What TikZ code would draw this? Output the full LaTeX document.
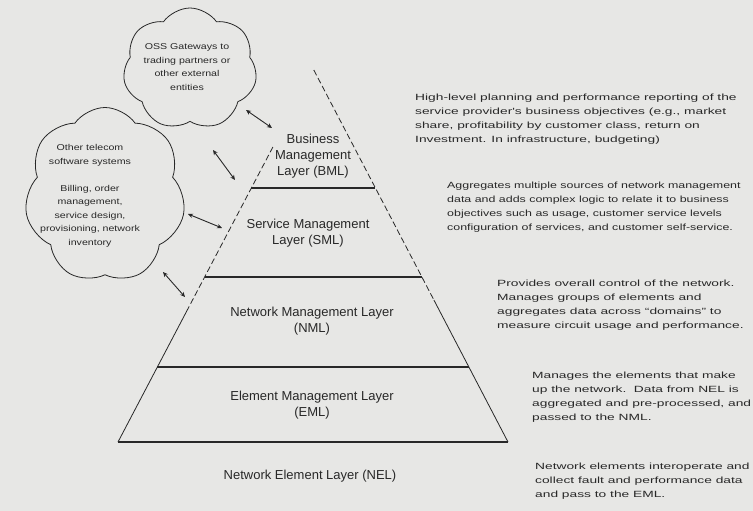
\documentclass[tikz,border=0pt]{standalone}
\usepackage{fontspec}
\setmainfont{Liberation Sans}
\newfontfamily\descfont[FakeStretch=1.53]{Liberation Sans}
\newfontfamily\descnarrow[FakeStretch=1.38]{Liberation Sans}
\newfontfamily\cloudfont[FakeStretch=1.25]{Liberation Sans}
\usetikzlibrary{shapes.symbols, arrows.meta}
\definecolor{paper}{RGB}{231,231,229}
\definecolor{ink}{RGB}{40,40,40}
\tikzset{
  layer/.style = {align = center, text = ink, font = \fontsize{13}{16}\selectfont},
  desc/.style = {align = left, anchor = north west, inner sep = 0pt, text = ink, font = \descfont\fontsize{9}{13.8}\selectfont},
  puff/.style = {cloud, cloud ignores aspect, draw = ink, line width = .8pt, cloud puffs = 7, cloud puff arc = 110},
  puffnote/.style = {align = center, text = ink, font = \cloudfont\fontsize{8.5}{13.5}\selectfont},
  link/.style = {{Stealth[length = 5pt, width = 4.5pt]}-{Stealth[length = 5pt, width = 4.5pt]}, line width = .9pt, draw = ink},
  tier/.style = {line width = 1.3pt, draw = ink},
  side/.style = {line width = .8pt, draw = ink}
}
\begin{document}
\begin{tikzpicture}[x = 1pt, y = -1pt]
      \fill[paper](0, 0) rectangle (753, 511);
      \useasboundingbox(0, 0) rectangle (753, 511);

      \coordinate(top) at(313.8, 70);
      \coordinate(lcut) at(272.9, 147);
      \coordinate(lmid) at(187.3, 310);
      \coordinate(rmid) at(433.9, 300);
      \coordinate(bl) at(118, 442);
      \coordinate(br) at(508, 442);
      \draw[side, dash pattern = on 6pt off 3pt](lcut) to (lmid);
      \draw[side](lmid) to (bl);
      \draw[side, dash pattern = on 6pt off 3pt](top) to (rmid);
      \draw[side](rmid) to (br);
      \draw[tier](251.4, 188) to (375.4, 188);
      \draw[tier](204.6, 277) to (421.9, 277);
      \draw[tier](157.4, 367) to (468.8, 367);
      \draw[tier](bl) to (br);

      \node[layer] at(313, 156)(bml){Business\\Management\\Layer (BML)};
      \node[layer] at(308, 233)(sml){Service Management\\Layer (SML)};
      \node[layer] at(312, 321)(nml){Network Management Layer\\(NML)};
      \node[layer] at(312, 405)(eml){Element Management Layer\\(EML)};
      \node[layer] at(310, 476)(nel){Network Element Layer (NEL)};

      \node[puff, minimum width = 134pt, minimum height = 122pt] at(190, 69)(gw){};
      \node[puffnote] at(187, 67)(gwtext){OSS Gateways to\\trading partners or\\other external\\entities};
      \node[puff, minimum width = 161pt, minimum height = 175pt] at(105, 195)(tel){};
      \node[puffnote] at(90, 196)(teltext){Other telecom\\software systems\\[13.5pt]Billing, order\\management,\\service design,\\provisioning, network\\inventory};

      \coordinate(a1) at(246, 110);
      \coordinate(a2) at(272, 128);
      \coordinate(b1) at(213, 150);
      \coordinate(b2) at(235, 180);
      \coordinate(c1) at(188, 214);
      \coordinate(c2) at(222, 228);
      \coordinate(d1) at(163, 272);
      \coordinate(d2) at(185, 297);
      \draw[link](a1) to (a2);
      \draw[link](b1) to (b2);
      \draw[link](c1) to (c2);
      \draw[link](d1) to (d2);

      \node[desc] at(415, 94)(bmlnote){High-level planning and performance reporting of the\\service provider's business objectives (e.g., market\\share, profitability by customer class, return on\\Investment. In infrastructure, budgeting)};
      \node[desc, font = \descnarrow\fontsize{9}{13.8}\selectfont] at(447, 182)(smlnote){Aggregates multiple sources of network management\\data and adds complex logic to relate it to business\\objectives such as usage, customer service levels\\configuration of services, and customer self-service.};
      \node[desc] at(497, 280)(nmlnote){Provides overall control of the network.\\Manages groups of elements and\\aggregates data across “domains” to\\measure circuit usage and performance.};
      \node[desc] at(532, 372)(emlnote){Manages the elements that make\\up the network.\ \ Data from NEL is\\aggregated and pre-processed, and\\passed to the NML.};
      \node[desc] at(535, 463)(nelnote){Network elements interoperate and\\collect fault and performance data\\and pass to the EML.};
\end{tikzpicture}
\end{document}
